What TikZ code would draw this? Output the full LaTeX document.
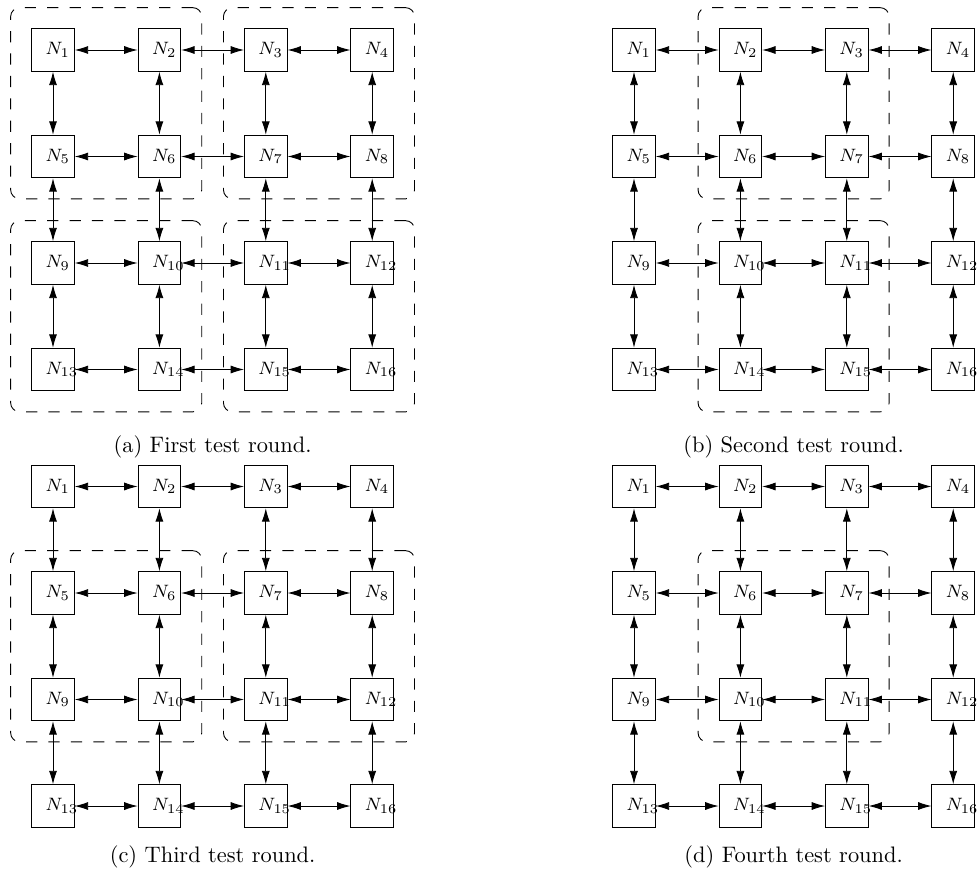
\documentclass[tikz,border=0pt]{standalone}
\usetikzlibrary{arrows.meta,fit}
\begin{document}
\begin{tikzpicture}[x=0.4464pt,y=-0.4464pt,
  nd/.style={draw, line width=0.4pt, minimum width=19pt, minimum height=19pt,
    inner xsep=6.2pt, inner ysep=0pt, text width=6.6pt, align=left, font=\footnotesize},
  link/.style={{Latex[length=6pt,width=3.6pt]}-{Latex[length=6pt,width=3.6pt]}, line width=0.4pt},
  grp/.style={draw, line width=0.4pt, dash pattern=on 5pt off 5pt, rounded corners=4pt, inner sep=9.2pt},
  captxt/.style={anchor=base, font=\normalsize}]
\useasboundingbox (0,0) rectangle (978,876);
\foreach \p/\ox/\oy in {a/0/0, b/581/0, c/0/436.5, d/581/436.5}{
  \foreach \r in {0,...,3}{
    \foreach \c in {0,...,3}{
      \pgfmathtruncatemacro\n{4*\r+\c+1}
      \node[nd] (\p\n) at (\ox+53+106.4*\c, \oy+50+106.5*\r) {$N_{\n}$};
    }
  }
  \foreach \r in {0,...,3}{
    \foreach \c in {1,...,3}{
      \pgfmathtruncatemacro\n{4*\r+\c}
      \pgfmathtruncatemacro\m{\n+1}
      \draw[link] (\p\n) -- (\p\m);
    }
  }
  \foreach \r in {1,...,3}{
    \foreach \c in {1,...,4}{
      \pgfmathtruncatemacro\n{4*(\r-1)+\c}
      \pgfmathtruncatemacro\m{\n+4}
      \draw[link] (\p\n) -- (\p\m);
    }
  }
}
% groups
\node[grp, fit=(a1)(a6)] (ga1) {};
\node[grp, fit=(a3)(a8)] (ga2) {};
\node[grp, fit=(a9)(a14)] (ga3) {};
\node[grp, fit=(a11)(a16)] (ga4) {};
\node[grp, fit=(b2)(b7)] (gb1) {};
\node[grp, fit=(b10)(b15)] (gb2) {};
\node[grp, fit=(c5)(c10)] (gc1) {};
\node[grp, fit=(c7)(c12)] (gc2) {};
\node[grp, fit=(d6)(d11)] (gd1) {};
% captions
\node[captxt] (capa) at (212.6,452.5) {(a) First test round.};
\node[captxt] (capb) at (793.6,452.5) {(b) Second test round.};
\node[captxt] (capc) at (212.6,862.5) {(c) Third test round.};
\node[captxt] (capd) at (793.6,862.5) {(d) Fourth test round.};
\end{tikzpicture}
\end{document}
